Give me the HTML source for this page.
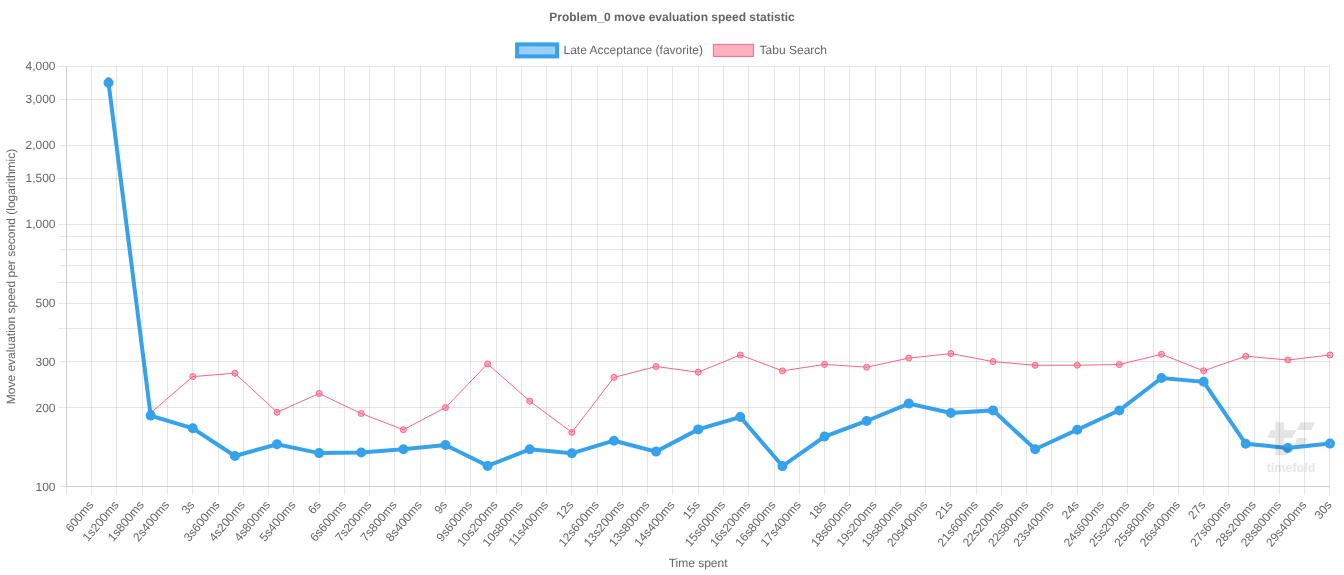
<!DOCTYPE html>
<html><head><meta charset="utf-8"><style>
html,body{margin:0;padding:0;background:#fff;overflow:hidden;}
svg{display:block;will-change:transform;}
.t{font-family:"Liberation Sans", sans-serif;font-size:12px;fill:#666;text-rendering:geometricPrecision;}
</style></head><body>
<svg width="1344" height="575" viewBox="0 0 1344 575">
<path d="M66.5 66.45V494.75 M91.5 66.45V494.75 M116.5 66.45V494.75 M142.5 66.45V494.75 M167.5 66.45V494.75 M192.5 66.45V494.75 M218.5 66.45V494.75 M243.5 66.45V494.75 M268.5 66.45V494.75 M293.5 66.45V494.75 M319.5 66.45V494.75 M344.5 66.45V494.75 M369.5 66.45V494.75 M394.5 66.45V494.75 M420.5 66.45V494.75 M445.5 66.45V494.75 M470.5 66.45V494.75 M496.5 66.45V494.75 M521.5 66.45V494.75 M546.5 66.45V494.75 M571.5 66.45V494.75 M597.5 66.45V494.75 M622.5 66.45V494.75 M647.5 66.45V494.75 M672.5 66.45V494.75 M698.5 66.45V494.75 M723.5 66.45V494.75 M748.5 66.45V494.75 M774.5 66.45V494.75 M799.5 66.45V494.75 M824.5 66.45V494.75 M849.5 66.45V494.75 M875.5 66.45V494.75 M900.5 66.45V494.75 M925.5 66.45V494.75 M950.5 66.45V494.75 M976.5 66.45V494.75 M1001.5 66.45V494.75 M1026.5 66.45V494.75 M1051.5 66.45V494.75 M1077.5 66.45V494.75 M1102.5 66.45V494.75 M1127.5 66.45V494.75 M1153.5 66.45V494.75 M1178.5 66.45V494.75 M1203.5 66.45V494.75 M1228.5 66.45V494.75 M1254.5 66.45V494.75 M1279.5 66.45V494.75 M1304.5 66.45V494.75 M1329.5 66.45V494.75 M58.42 486.5H1329.97 M58.42 407.5H1329.97 M58.42 361.5H1329.97 M58.42 328.5H1329.97 M58.42 303.5H1329.97 M58.42 282.5H1329.97 M58.42 265.5H1329.97 M58.42 249.5H1329.97 M58.42 236.5H1329.97 M58.42 224.5H1329.97 M58.42 145.5H1329.97 M58.42 99.5H1329.97 M58.42 66.5H1329.97 M58.42 178.5H1329.97" stroke="rgba(0,0,0,0.1)" stroke-width="1" fill="none"/>
<path d="M66.5 66.45V487.0 M66.0 486.5H1329.97" stroke="#cfcfcf" stroke-width="1" fill="none"/>
<text x="55.5" y="70.45" text-anchor="end" class="t">4,000</text>
<text x="55.5" y="103.23" text-anchor="end" class="t">3,000</text>
<text x="55.5" y="149.43" text-anchor="end" class="t">2,000</text>
<text x="55.5" y="182.20" text-anchor="end" class="t">1,500</text>
<text x="55.5" y="228.40" text-anchor="end" class="t">1,000</text>
<text x="55.5" y="307.38" text-anchor="end" class="t">500</text>
<text x="55.5" y="365.58" text-anchor="end" class="t">300</text>
<text x="55.5" y="411.77" text-anchor="end" class="t">200</text>
<text x="55.5" y="490.75" text-anchor="end" class="t">100</text>
<text transform="translate(85.38,497.75) rotate(-50.0)" y="11.36" text-anchor="end" class="t">600ms</text>
<text transform="translate(110.65,497.75) rotate(-50.0)" y="11.36" text-anchor="end" class="t">1s200ms</text>
<text transform="translate(135.92,497.75) rotate(-50.0)" y="11.36" text-anchor="end" class="t">1s800ms</text>
<text transform="translate(161.19,497.75) rotate(-50.0)" y="11.36" text-anchor="end" class="t">2s400ms</text>
<text transform="translate(186.46,497.75) rotate(-50.0)" y="11.36" text-anchor="end" class="t">3s</text>
<text transform="translate(211.73,497.75) rotate(-50.0)" y="11.36" text-anchor="end" class="t">3s600ms</text>
<text transform="translate(237.00,497.75) rotate(-50.0)" y="11.36" text-anchor="end" class="t">4s200ms</text>
<text transform="translate(262.27,497.75) rotate(-50.0)" y="11.36" text-anchor="end" class="t">4s800ms</text>
<text transform="translate(287.54,497.75) rotate(-50.0)" y="11.36" text-anchor="end" class="t">5s400ms</text>
<text transform="translate(312.81,497.75) rotate(-50.0)" y="11.36" text-anchor="end" class="t">6s</text>
<text transform="translate(338.09,497.75) rotate(-50.0)" y="11.36" text-anchor="end" class="t">6s600ms</text>
<text transform="translate(363.36,497.75) rotate(-50.0)" y="11.36" text-anchor="end" class="t">7s200ms</text>
<text transform="translate(388.63,497.75) rotate(-50.0)" y="11.36" text-anchor="end" class="t">7s800ms</text>
<text transform="translate(413.90,497.75) rotate(-50.0)" y="11.36" text-anchor="end" class="t">8s400ms</text>
<text transform="translate(439.17,497.75) rotate(-50.0)" y="11.36" text-anchor="end" class="t">9s</text>
<text transform="translate(464.44,497.75) rotate(-50.0)" y="11.36" text-anchor="end" class="t">9s600ms</text>
<text transform="translate(489.71,497.75) rotate(-50.0)" y="11.36" text-anchor="end" class="t">10s200ms</text>
<text transform="translate(514.98,497.75) rotate(-50.0)" y="11.36" text-anchor="end" class="t">10s800ms</text>
<text transform="translate(540.25,497.75) rotate(-50.0)" y="11.36" text-anchor="end" class="t">11s400ms</text>
<text transform="translate(565.52,497.75) rotate(-50.0)" y="11.36" text-anchor="end" class="t">12s</text>
<text transform="translate(590.80,497.75) rotate(-50.0)" y="11.36" text-anchor="end" class="t">12s600ms</text>
<text transform="translate(616.07,497.75) rotate(-50.0)" y="11.36" text-anchor="end" class="t">13s200ms</text>
<text transform="translate(641.34,497.75) rotate(-50.0)" y="11.36" text-anchor="end" class="t">13s800ms</text>
<text transform="translate(666.61,497.75) rotate(-50.0)" y="11.36" text-anchor="end" class="t">14s400ms</text>
<text transform="translate(691.88,497.75) rotate(-50.0)" y="11.36" text-anchor="end" class="t">15s</text>
<text transform="translate(717.15,497.75) rotate(-50.0)" y="11.36" text-anchor="end" class="t">15s600ms</text>
<text transform="translate(742.42,497.75) rotate(-50.0)" y="11.36" text-anchor="end" class="t">16s200ms</text>
<text transform="translate(767.69,497.75) rotate(-50.0)" y="11.36" text-anchor="end" class="t">16s800ms</text>
<text transform="translate(792.96,497.75) rotate(-50.0)" y="11.36" text-anchor="end" class="t">17s400ms</text>
<text transform="translate(818.23,497.75) rotate(-50.0)" y="11.36" text-anchor="end" class="t">18s</text>
<text transform="translate(843.51,497.75) rotate(-50.0)" y="11.36" text-anchor="end" class="t">18s600ms</text>
<text transform="translate(868.78,497.75) rotate(-50.0)" y="11.36" text-anchor="end" class="t">19s200ms</text>
<text transform="translate(894.05,497.75) rotate(-50.0)" y="11.36" text-anchor="end" class="t">19s800ms</text>
<text transform="translate(919.32,497.75) rotate(-50.0)" y="11.36" text-anchor="end" class="t">20s400ms</text>
<text transform="translate(944.59,497.75) rotate(-50.0)" y="11.36" text-anchor="end" class="t">21s</text>
<text transform="translate(969.86,497.75) rotate(-50.0)" y="11.36" text-anchor="end" class="t">21s600ms</text>
<text transform="translate(995.13,497.75) rotate(-50.0)" y="11.36" text-anchor="end" class="t">22s200ms</text>
<text transform="translate(1020.40,497.75) rotate(-50.0)" y="11.36" text-anchor="end" class="t">22s800ms</text>
<text transform="translate(1045.67,497.75) rotate(-50.0)" y="11.36" text-anchor="end" class="t">23s400ms</text>
<text transform="translate(1070.94,497.75) rotate(-50.0)" y="11.36" text-anchor="end" class="t">24s</text>
<text transform="translate(1096.22,497.75) rotate(-50.0)" y="11.36" text-anchor="end" class="t">24s600ms</text>
<text transform="translate(1121.49,497.75) rotate(-50.0)" y="11.36" text-anchor="end" class="t">25s200ms</text>
<text transform="translate(1146.76,497.75) rotate(-50.0)" y="11.36" text-anchor="end" class="t">25s800ms</text>
<text transform="translate(1172.03,497.75) rotate(-50.0)" y="11.36" text-anchor="end" class="t">26s400ms</text>
<text transform="translate(1197.30,497.75) rotate(-50.0)" y="11.36" text-anchor="end" class="t">27s</text>
<text transform="translate(1222.57,497.75) rotate(-50.0)" y="11.36" text-anchor="end" class="t">27s600ms</text>
<text transform="translate(1247.84,497.75) rotate(-50.0)" y="11.36" text-anchor="end" class="t">28s200ms</text>
<text transform="translate(1273.11,497.75) rotate(-50.0)" y="11.36" text-anchor="end" class="t">28s800ms</text>
<text transform="translate(1298.38,497.75) rotate(-50.0)" y="11.36" text-anchor="end" class="t">29s400ms</text>
<text transform="translate(1323.65,497.75) rotate(-50.0)" y="11.36" text-anchor="end" class="t">30s</text>
<text x="698.1" y="566.8" text-anchor="middle" class="t">Time spent</text>
<text transform="translate(15.1,276.5) rotate(-90)" text-anchor="middle" class="t">Move evaluation speed per second (logarithmic)</text>
<text x="672" y="21.1" text-anchor="middle" class="t" font-weight="bold">Problem_0 move evaluation speed statistic</text>
<rect x="517.1" y="44.4" width="40" height="12" fill="rgba(54,162,235,0.5)" stroke="#36a2eb" stroke-width="4"/>
<text x="563.5" y="54" class="t">Late Acceptance (favorite)</text>
<rect x="713.4" y="44.4" width="40" height="12" fill="rgba(255,99,132,0.5)" stroke="#ff6384" stroke-width="1"/>
<text x="759.6" y="54" class="t">Tabu Search</text>
<polyline points="108.54,80.5 150.66,413.0 192.77,376.6 234.89,373.2 277.01,412.3 319.13,393.5 361.25,413.5 403.37,429.7 445.48,407.6 487.60,363.9 529.72,401.1 571.84,432.4 613.96,377.4 656.08,366.5 698.19,372.2 740.31,355.0 782.43,370.9 824.55,364.4 866.67,367.2 908.79,358.1 950.90,353.6 993.02,361.6 1035.14,365.3 1077.26,365.2 1119.38,364.5 1161.50,354.3 1203.62,370.8 1245.73,356.2 1287.85,360.0 1329.97,355.0" fill="none" stroke="#ff6384" stroke-width="1" stroke-linejoin="miter"/>
<circle cx="108.54" cy="80.5" r="3" fill="rgba(255,99,132,0.5)" stroke="#ff6384" stroke-width="1"/>
<circle cx="150.66" cy="413.0" r="3" fill="rgba(255,99,132,0.5)" stroke="#ff6384" stroke-width="1"/>
<circle cx="192.77" cy="376.6" r="3" fill="rgba(255,99,132,0.5)" stroke="#ff6384" stroke-width="1"/>
<circle cx="234.89" cy="373.2" r="3" fill="rgba(255,99,132,0.5)" stroke="#ff6384" stroke-width="1"/>
<circle cx="277.01" cy="412.3" r="3" fill="rgba(255,99,132,0.5)" stroke="#ff6384" stroke-width="1"/>
<circle cx="319.13" cy="393.5" r="3" fill="rgba(255,99,132,0.5)" stroke="#ff6384" stroke-width="1"/>
<circle cx="361.25" cy="413.5" r="3" fill="rgba(255,99,132,0.5)" stroke="#ff6384" stroke-width="1"/>
<circle cx="403.37" cy="429.7" r="3" fill="rgba(255,99,132,0.5)" stroke="#ff6384" stroke-width="1"/>
<circle cx="445.48" cy="407.6" r="3" fill="rgba(255,99,132,0.5)" stroke="#ff6384" stroke-width="1"/>
<circle cx="487.60" cy="363.9" r="3" fill="rgba(255,99,132,0.5)" stroke="#ff6384" stroke-width="1"/>
<circle cx="529.72" cy="401.1" r="3" fill="rgba(255,99,132,0.5)" stroke="#ff6384" stroke-width="1"/>
<circle cx="571.84" cy="432.4" r="3" fill="rgba(255,99,132,0.5)" stroke="#ff6384" stroke-width="1"/>
<circle cx="613.96" cy="377.4" r="3" fill="rgba(255,99,132,0.5)" stroke="#ff6384" stroke-width="1"/>
<circle cx="656.08" cy="366.5" r="3" fill="rgba(255,99,132,0.5)" stroke="#ff6384" stroke-width="1"/>
<circle cx="698.19" cy="372.2" r="3" fill="rgba(255,99,132,0.5)" stroke="#ff6384" stroke-width="1"/>
<circle cx="740.31" cy="355.0" r="3" fill="rgba(255,99,132,0.5)" stroke="#ff6384" stroke-width="1"/>
<circle cx="782.43" cy="370.9" r="3" fill="rgba(255,99,132,0.5)" stroke="#ff6384" stroke-width="1"/>
<circle cx="824.55" cy="364.4" r="3" fill="rgba(255,99,132,0.5)" stroke="#ff6384" stroke-width="1"/>
<circle cx="866.67" cy="367.2" r="3" fill="rgba(255,99,132,0.5)" stroke="#ff6384" stroke-width="1"/>
<circle cx="908.79" cy="358.1" r="3" fill="rgba(255,99,132,0.5)" stroke="#ff6384" stroke-width="1"/>
<circle cx="950.90" cy="353.6" r="3" fill="rgba(255,99,132,0.5)" stroke="#ff6384" stroke-width="1"/>
<circle cx="993.02" cy="361.6" r="3" fill="rgba(255,99,132,0.5)" stroke="#ff6384" stroke-width="1"/>
<circle cx="1035.14" cy="365.3" r="3" fill="rgba(255,99,132,0.5)" stroke="#ff6384" stroke-width="1"/>
<circle cx="1077.26" cy="365.2" r="3" fill="rgba(255,99,132,0.5)" stroke="#ff6384" stroke-width="1"/>
<circle cx="1119.38" cy="364.5" r="3" fill="rgba(255,99,132,0.5)" stroke="#ff6384" stroke-width="1"/>
<circle cx="1161.50" cy="354.3" r="3" fill="rgba(255,99,132,0.5)" stroke="#ff6384" stroke-width="1"/>
<circle cx="1203.62" cy="370.8" r="3" fill="rgba(255,99,132,0.5)" stroke="#ff6384" stroke-width="1"/>
<circle cx="1245.73" cy="356.2" r="3" fill="rgba(255,99,132,0.5)" stroke="#ff6384" stroke-width="1"/>
<circle cx="1287.85" cy="360.0" r="3" fill="rgba(255,99,132,0.5)" stroke="#ff6384" stroke-width="1"/>
<circle cx="1329.97" cy="355.0" r="3" fill="rgba(255,99,132,0.5)" stroke="#ff6384" stroke-width="1"/>
<polyline points="108.54,82.8 150.66,415.6 192.77,428.3 234.89,456.0 277.01,444.3 319.13,453.1 361.25,452.5 403.37,449.2 445.48,445.0 487.60,465.9 529.72,449.3 571.84,453.3 613.96,440.7 656.08,451.6 698.19,429.4 740.31,417.0 782.43,466.1 824.55,436.5 866.67,421.0 908.79,403.6 950.90,413.0 993.02,410.4 1035.14,449.2 1077.26,429.7 1119.38,410.4 1161.50,378.0 1203.62,381.8 1245.73,443.8 1287.85,447.9 1329.97,443.6" fill="none" stroke="#36a2eb" stroke-width="4" stroke-linejoin="miter"/>
<circle cx="108.54" cy="82.8" r="3" fill="rgba(54,162,235,0.5)" stroke="#36a2eb" stroke-width="4"/>
<circle cx="150.66" cy="415.6" r="3" fill="rgba(54,162,235,0.5)" stroke="#36a2eb" stroke-width="4"/>
<circle cx="192.77" cy="428.3" r="3" fill="rgba(54,162,235,0.5)" stroke="#36a2eb" stroke-width="4"/>
<circle cx="234.89" cy="456.0" r="3" fill="rgba(54,162,235,0.5)" stroke="#36a2eb" stroke-width="4"/>
<circle cx="277.01" cy="444.3" r="3" fill="rgba(54,162,235,0.5)" stroke="#36a2eb" stroke-width="4"/>
<circle cx="319.13" cy="453.1" r="3" fill="rgba(54,162,235,0.5)" stroke="#36a2eb" stroke-width="4"/>
<circle cx="361.25" cy="452.5" r="3" fill="rgba(54,162,235,0.5)" stroke="#36a2eb" stroke-width="4"/>
<circle cx="403.37" cy="449.2" r="3" fill="rgba(54,162,235,0.5)" stroke="#36a2eb" stroke-width="4"/>
<circle cx="445.48" cy="445.0" r="3" fill="rgba(54,162,235,0.5)" stroke="#36a2eb" stroke-width="4"/>
<circle cx="487.60" cy="465.9" r="3" fill="rgba(54,162,235,0.5)" stroke="#36a2eb" stroke-width="4"/>
<circle cx="529.72" cy="449.3" r="3" fill="rgba(54,162,235,0.5)" stroke="#36a2eb" stroke-width="4"/>
<circle cx="571.84" cy="453.3" r="3" fill="rgba(54,162,235,0.5)" stroke="#36a2eb" stroke-width="4"/>
<circle cx="613.96" cy="440.7" r="3" fill="rgba(54,162,235,0.5)" stroke="#36a2eb" stroke-width="4"/>
<circle cx="656.08" cy="451.6" r="3" fill="rgba(54,162,235,0.5)" stroke="#36a2eb" stroke-width="4"/>
<circle cx="698.19" cy="429.4" r="3" fill="rgba(54,162,235,0.5)" stroke="#36a2eb" stroke-width="4"/>
<circle cx="740.31" cy="417.0" r="3" fill="rgba(54,162,235,0.5)" stroke="#36a2eb" stroke-width="4"/>
<circle cx="782.43" cy="466.1" r="3" fill="rgba(54,162,235,0.5)" stroke="#36a2eb" stroke-width="4"/>
<circle cx="824.55" cy="436.5" r="3" fill="rgba(54,162,235,0.5)" stroke="#36a2eb" stroke-width="4"/>
<circle cx="866.67" cy="421.0" r="3" fill="rgba(54,162,235,0.5)" stroke="#36a2eb" stroke-width="4"/>
<circle cx="908.79" cy="403.6" r="3" fill="rgba(54,162,235,0.5)" stroke="#36a2eb" stroke-width="4"/>
<circle cx="950.90" cy="413.0" r="3" fill="rgba(54,162,235,0.5)" stroke="#36a2eb" stroke-width="4"/>
<circle cx="993.02" cy="410.4" r="3" fill="rgba(54,162,235,0.5)" stroke="#36a2eb" stroke-width="4"/>
<circle cx="1035.14" cy="449.2" r="3" fill="rgba(54,162,235,0.5)" stroke="#36a2eb" stroke-width="4"/>
<circle cx="1077.26" cy="429.7" r="3" fill="rgba(54,162,235,0.5)" stroke="#36a2eb" stroke-width="4"/>
<circle cx="1119.38" cy="410.4" r="3" fill="rgba(54,162,235,0.5)" stroke="#36a2eb" stroke-width="4"/>
<circle cx="1161.50" cy="378.0" r="3" fill="rgba(54,162,235,0.5)" stroke="#36a2eb" stroke-width="4"/>
<circle cx="1203.62" cy="381.8" r="3" fill="rgba(54,162,235,0.5)" stroke="#36a2eb" stroke-width="4"/>
<circle cx="1245.73" cy="443.8" r="3" fill="rgba(54,162,235,0.5)" stroke="#36a2eb" stroke-width="4"/>
<circle cx="1287.85" cy="447.9" r="3" fill="rgba(54,162,235,0.5)" stroke="#36a2eb" stroke-width="4"/>
<circle cx="1329.97" cy="443.6" r="3" fill="rgba(54,162,235,0.5)" stroke="#36a2eb" stroke-width="4"/>
<g opacity="0.1" fill="#000">
<path d="M1275.2 422.2H1283.9V447.5H1291.0L1287.0 455.0H1275.2Z"/>
<path d="M1270.9 430.3H1296.2L1292.4 438.0H1267.1Z"/>
<path d="M1300.4 422.2H1314.9L1311.4 429.9H1296.9Z"/>
<path d="M1297.4 438.1H1307.3L1303.6 445.6H1293.7Z"/>
<text x="1291.0" y="472.0" text-anchor="middle" font-size="12.5" font-weight="bold" font-family='"Liberation Sans", sans-serif'>timefold</text>
</g>
</svg></body></html>
